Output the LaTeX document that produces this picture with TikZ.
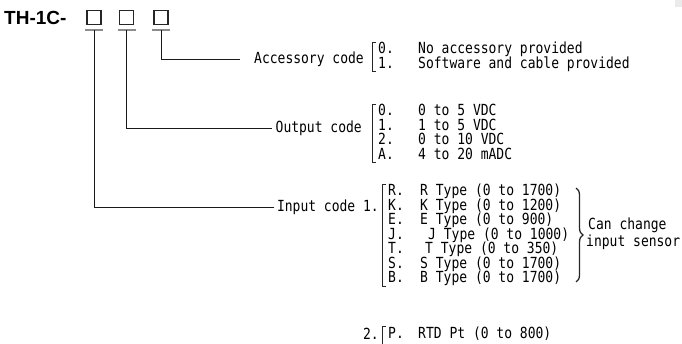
\documentclass[tikz,border=0pt]{standalone}
\usepackage{fontspec}
\newfontfamily\headfont{Liberation Sans}
\newfontfamily\gothic[FakeStretch=0.85]{DejaVu Sans Mono}
\usetikzlibrary{positioning,decorations.pathreplacing}
\tikzstyle{slot}=[
	rectangle,
	draw=black!85,
	line width=1.6pt,
	minimum size=14pt,
	inner sep=0pt
]
\tikzstyle{underline}=[
	line width=2pt,
	draw=black!45
]
\tikzstyle{lead}=[
	line width=0.9pt,
	draw=black!90
]
\tikzstyle{caption}=[
	font=\gothic\fontsize{15.3}{16}\selectfont,
	inner sep=0pt
]
\tikzstyle{rowkey}=[
	caption,
	anchor=west,
	text height=11pt,
	text depth=3pt,
	inner ysep=0.05pt
]
\tikzstyle{bracket}=[
	line width=1pt,
	draw=black!85
]

\begin{document}
\begin{tikzpicture}[x=1pt,y=-1pt]
\useasboundingbox (0,0) rectangle (682,344);
\fill [black!8] (675,0) rectangle (682,7);

% model code and the three slots
\node [anchor=base west, inner sep=0pt, font=\headfont\bfseries\fontsize{19}{19}\selectfont] (Model) at (4,24.5) {TH-1C-};
\node [slot] (SlotInput) at (94,17.5) {};
\node [slot, right=17pt of SlotInput] (SlotOutput) {};
\node [slot, right=19pt of SlotOutput] (SlotAccessory) {};
\coordinate (FootInput) at ([yshift=-4.5pt]SlotInput.south);
\coordinate (FootOutput) at ([yshift=-4.5pt]SlotOutput.south);
\coordinate (FootAccessory) at ([yshift=-4.5pt]SlotAccessory.south);
\draw [underline] ([xshift=-9pt]FootInput) -- ([xshift=9pt]FootInput);
\draw [underline] ([xshift=-9pt]FootOutput) -- ([xshift=9pt]FootOutput);
\draw [underline] ([xshift=-9pt]FootAccessory) -- ([xshift=9pt]FootAccessory);

% code names
\node [caption, anchor=east] (AccessoryCode) at (364,59) {Accessory code};
\node [caption, anchor=east] (OutputCode) at (362,128) {Output code};
\node [caption, anchor=east] (InputCode) at (379,207) {Input code 1.};
\draw [lead, shorten >=14pt] (FootAccessory) |- (AccessoryCode.west);
\draw [lead, shorten >=3pt] (FootOutput) |- (OutputCode.west);
\draw [lead, shorten >=3pt] (FootInput) |- (InputCode.west);

% accessory
\node [rowkey] (Acc0) at (378,50) {0.};
\node [rowkey, below=0pt of Acc0] (Acc1) {1.};
\node [rowkey] (AccNone) at ([xshift=40pt]Acc0.west) {No accessory provided};
\node [rowkey] (AccSoft) at ([xshift=40pt]Acc1.west) {Software and cable provided};
\draw [bracket] ([xshift=-2pt]Acc0.north west) -- ([xshift=-6pt]Acc0.north west) |- ([xshift=-2pt]Acc1.south west);

% output
\node [rowkey] (Out0) at (378,112) {0.};
\node [rowkey, below=0pt of Out0] (Out1) {1.};
\node [rowkey, below=0pt of Out1] (Out2) {2.};
\node [rowkey, below=0pt of Out2] (OutA) {A.};
\node [rowkey] (OutZeroFive) at ([xshift=40pt]Out0.west) {0 to 5 VDC};
\node [rowkey] (OutOneFive) at ([xshift=40pt]Out1.west) {1 to 5 VDC};
\node [rowkey] (OutZeroTen) at ([xshift=40pt]Out2.west) {0 to 10 VDC};
\node [rowkey] (OutCurrent) at ([xshift=40pt]OutA.west) {4 to 20 mADC};
\draw [bracket] ([xshift=-2pt]Out0.north west) -- ([xshift=-6pt]Out0.north west) |- ([xshift=-2pt]OutA.south west);

% input, thermocouples
\node [rowkey] (InR) at (388,192) {R.};
\node [rowkey, below=0pt of InR] (InK) {K.};
\node [rowkey, below=0pt of InK] (InE) {E.};
\node [rowkey, below=0pt of InE] (InJ) {J.};
\node [rowkey, below=0pt of InJ] (InT) {T.};
\node [rowkey, below=0pt of InT] (InS) {S.};
\node [rowkey, below=0pt of InS] (InB) {B.};
\node [rowkey] (TypeR) at ([xshift=32pt]InR.west) {R Type (0 to 1700)};
\node [rowkey] (TypeK) at ([xshift=32pt]InK.west) {K Type (0 to 1200)};
\node [rowkey] (TypeE) at ([xshift=32pt]InE.west) {E Type (0 to 900)};
\node [rowkey] (TypeJ) at ([xshift=40pt]InJ.west) {J Type (0 to 1000)};
\node [rowkey] (TypeT) at ([xshift=37pt]InT.west) {T Type (0 to 350)};
\node [rowkey] (TypeS) at ([xshift=32pt]InS.west) {S Type (0 to 1700)};
\node [rowkey] (TypeB) at ([xshift=32pt]InB.west) {B Type (0 to 1700)};
\draw [bracket] ([xshift=-2pt]InR.north west) -- ([xshift=-6pt]InR.north west) |- ([xshift=-2pt]InB.south west);
\draw [bracket, line width=1.3pt, decorate, decoration={brace, amplitude=7pt}] (576,188) -- (576,282);
\node [caption, anchor=west] (CanChange) at (588,225) {Can change};
\node [caption, anchor=west] (InputSensor) at (586,242) {input sensor};

% input, RTD
\node [rowkey] (InP) at (388,334) {P.};
\node [caption, anchor=east] (InputTwo) at (379,334) {2.};
\node [rowkey] (TypeP) at ([xshift=30pt]InP.west) {RTD Pt (0 to 800)};
\draw [bracket] ([xshift=-2pt]InP.north west) -- ([xshift=-6pt]InP.north west) -- ([xshift=-6pt,yshift=-4pt]InP.south west);
\end{tikzpicture}
\end{document}
